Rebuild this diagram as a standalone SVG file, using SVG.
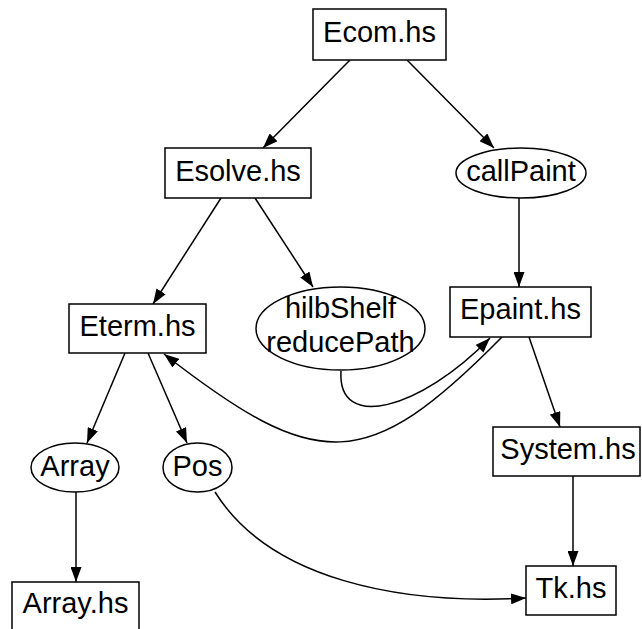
<svg xmlns="http://www.w3.org/2000/svg" width="642" height="629" viewBox="0 0 642 629">
<style>
.n{fill:#fff;stroke:#000;stroke-width:1.5}
.t{font-family:"Liberation Sans",Arial,sans-serif;font-size:29px;fill:#000;text-anchor:middle}
.e{fill:none;stroke:#000;stroke-width:1.5}
</style>
<defs>
<marker id="a" markerWidth="16" markerHeight="11" refX="15" refY="5.5" orient="auto" markerUnits="userSpaceOnUse">
<path d="M0,0 L15,5.5 L0,11 z" fill="#000"/>
</marker>
</defs>
<rect width="642" height="629" fill="#fff"/>
<g id="connectors">
<path class="e" d="M350,60 L263,148" marker-end="url(#a)"/>
<path class="e" d="M407,60 L494,148" marker-end="url(#a)"/>
<path class="e" d="M221,198 L153,304" marker-end="url(#a)"/>
<path class="e" d="M255,198 L313,287" marker-end="url(#a)"/>
<path class="e" d="M519,198 L519,287" marker-end="url(#a)"/>
<path class="e" d="M341,371 C337,432 420,410 490,338" marker-end="url(#a)"/>
<path class="e" d="M502,337 C367,474 318,474 164,354" marker-end="url(#a)"/>
<path class="e" d="M529,337 L560,427" marker-end="url(#a)"/>
<path class="e" d="M125,353 L87,443" marker-end="url(#a)"/>
<path class="e" d="M148,353 L187,443" marker-end="url(#a)"/>
<path class="e" d="M76,492 L76,582" marker-end="url(#a)"/>
<path class="e" d="M215,492 C270,580 400,605 526,598" marker-end="url(#a)"/>
<path class="e" d="M573,476 L573,566" marker-end="url(#a)"/>
</g>
<g id="ecom"><rect class="n" x="313" y="9" width="133" height="51"/><text class="t" x="379.5" y="42">Ecom.hs</text></g>
<g id="esolve"><rect class="n" x="165" y="148" width="146" height="50"/><text class="t" x="238" y="181">Esolve.hs</text></g>
<g id="callPaint"><ellipse class="n" cx="521" cy="173" rx="65" ry="25"/><text class="t" x="521" y="181">callPaint</text></g>
<g id="eterm"><rect class="n" x="69" y="304" width="137" height="49"/><text class="t" x="137.5" y="336">Eterm.hs</text></g>
<g id="hilbShelf"><ellipse class="n" cx="340.5" cy="328.5" rx="84.5" ry="41.5"/><text class="t" x="340.5" y="318">hilbShelf</text><text class="t" x="340.5" y="352">reducePath</text></g>
<g id="epaint"><rect class="n" x="450" y="287" width="141" height="50"/><text class="t" x="520.5" y="319">Epaint.hs</text></g>
<g id="system"><rect class="n" x="493" y="427" width="147" height="49"/><text class="t" x="568" y="459">System.hs</text></g>
<g id="array"><ellipse class="n" cx="75" cy="467.5" rx="44" ry="24.5"/><text class="t" x="75" y="476">Array</text></g>
<g id="pos"><ellipse class="n" cx="197.5" cy="467.5" rx="34.5" ry="24.5"/><text class="t" x="197.5" y="476">Pos</text></g>
<g id="arrayhs"><rect class="n" x="12" y="582" width="127" height="60"/><text class="t" x="75.5" y="613">Array.hs</text></g>
<g id="tk"><rect class="n" x="526" y="566" width="90" height="49"/><text class="t" x="571" y="598">Tk.hs</text></g>
</svg>
